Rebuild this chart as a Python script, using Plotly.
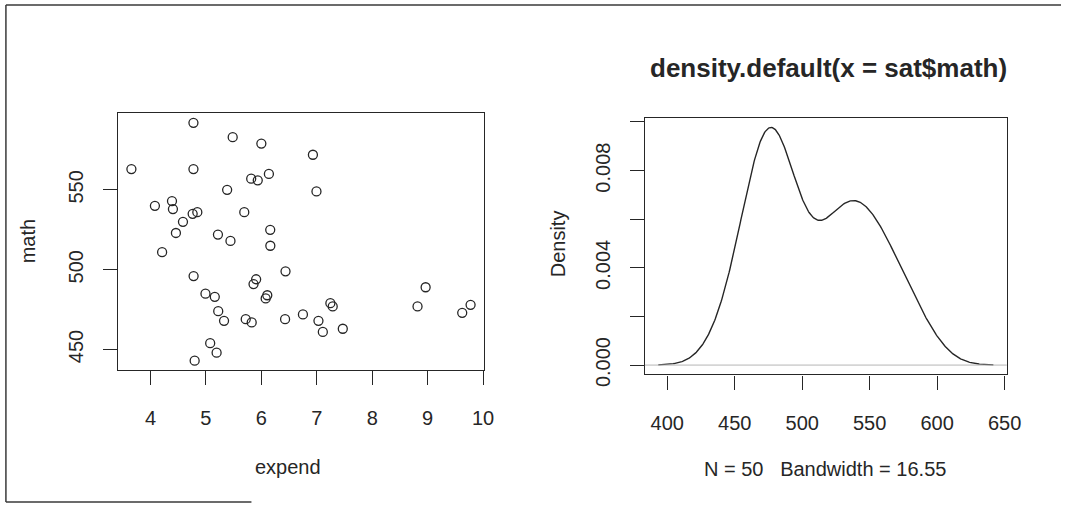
import numpy as np
import plotly.graph_objects as go

# ---- data (faraway::sat) ----
states = ["Alabama", "Alaska", "Arizona", "Arkansas", "California", "Colorado",
          "Connecticut", "Delaware", "Florida", "Georgia", "Hawaii", "Idaho",
          "Illinois", "Indiana", "Iowa", "Kansas", "Kentucky", "Louisiana",
          "Maine", "Maryland", "Massachusetts", "Michigan", "Minnesota",
          "Mississippi", "Missouri", "Montana", "Nebraska", "Nevada",
          "New Hampshire", "New Jersey", "New Mexico", "New York",
          "North Carolina", "North Dakota", "Ohio", "Oklahoma", "Oregon",
          "Pennsylvania", "Rhode Island", "South Carolina", "South Dakota",
          "Tennessee", "Texas", "Utah", "Vermont", "Virginia", "Washington",
          "West Virginia", "Wisconsin", "Wyoming"]
expend = [4.405, 8.963, 4.778, 4.459, 4.992, 5.443, 8.817, 7.030, 5.718, 5.193,
          6.078, 4.210, 6.136, 5.826, 5.483, 5.817, 5.217, 4.761, 6.428, 7.245,
          7.287, 6.994, 6.000, 4.080, 5.383, 5.692, 5.935, 5.160, 5.859, 9.774,
          4.586, 9.623, 5.077, 4.775, 6.162, 4.845, 6.436, 7.109, 7.469, 4.797,
          4.775, 4.388, 5.222, 3.656, 6.750, 5.327, 5.906, 6.107, 6.930, 6.160]
math = [538, 489, 496, 523, 485, 518, 477, 468, 469, 448,
        482, 511, 560, 467, 583, 557, 522, 535, 469, 479,
        477, 549, 579, 540, 550, 536, 556, 483, 491, 478,
        530, 473, 454, 592, 515, 536, 499, 461, 463, 443,
        563, 543, 474, 563, 472, 468, 494, 484, 572, 525]
BANDWIDTH = 16.55

x_ticks_left = [4, 5, 6, 7, 8, 9, 10]
y_ticks_left = [450, 500, 550]
x_ticks_right = [400, 450, 500, 550, 600, 650]
y_ticks_right = [0.0, 0.002, 0.004, 0.006, 0.008, 0.010]
y_text_right = ["0.000", "", "0.004", "", "0.008", ""]

# ---- density (gaussian kernel, R density.default style grid) ----
m = np.array(math, dtype=float)
grid = np.linspace(m.min() - 3 * BANDWIDTH, m.max() + 3 * BANDWIDTH, 512)
dens = np.exp(-0.5 * ((grid[:, None] - m[None, :]) / BANDWIDTH) ** 2).sum(axis=1)
dens /= (len(m) * BANDWIDTH * np.sqrt(2 * np.pi))

def padded(lo, hi, f=0.04):
    s = hi - lo
    return [lo - f * s, hi + f * s]

W, H = 1076, 517
def px(x):
    return x / W
def py(y):
    return 1 - y / H

INK = "#262626"
FONT = "Liberation Sans, Arial, sans-serif"

fig = go.Figure()
fig.add_trace(go.Scatter(
    x=expend, y=math, mode="markers", xaxis="x", yaxis="y",
    marker=dict(symbol="circle-open", size=9, color=INK, line=dict(width=1.3, color=INK)),
    showlegend=False))
fig.add_trace(go.Scatter(
    x=grid, y=dens, mode="lines", xaxis="x2", yaxis="y2",
    line=dict(color=INK, width=1.4), showlegend=False))

axis_common = dict(showgrid=False, zeroline=False, showline=True, mirror=True,
                   linecolor=INK, linewidth=1.3, ticks="outside", ticklen=14,
                   tickcolor=INK, tickwidth=1.2,
                   tickfont=dict(family=FONT, size=20, color=INK))

fig.update_layout(
    width=W, height=H, margin=dict(l=0, r=0, t=0, b=0),
    paper_bgcolor="white", plot_bgcolor="white",
    xaxis=dict(domain=[px(119.5), px(491)], range=padded(min(expend), max(expend)),
               tickvals=x_ticks_left, ticklabelstandoff=16, anchor="y", **axis_common),
    yaxis=dict(domain=[py(379), py(116)], range=padded(min(math), max(math)),
               tickvals=y_ticks_left, tickangle=-90, ticklabelstandoff=12,
               anchor="x", **axis_common),
    xaxis2=dict(domain=[px(654), px(1021)], range=padded(grid.min(), grid.max()),
                tickvals=x_ticks_right, ticklabelstandoff=16, anchor="y2", **axis_common),
    yaxis2=dict(domain=[py(383.3), py(120.7)], range=padded(dens.min(), dens.max()),
                tickvals=y_ticks_right, ticktext=y_text_right, tickangle=-90,
                ticklabelstandoff=12, anchor="x2", **axis_common),
)

fig.add_shape(type="line", xref="x2 domain", x0=0, x1=1, yref="y2", y0=0, y1=0,
              line=dict(color="#b5b5b5", width=1))

# outer frame
frame = dict(type="line", xref="paper", yref="paper", line=dict(color="#3a3a3a", width=1.5))
fig.add_shape(x0=px(6), x1=1, y0=py(5), y1=py(5), **frame)
fig.add_shape(x0=px(6), x1=px(6), y0=py(5), y1=py(514), **frame)
fig.add_shape(x0=px(6), x1=px(255), y0=py(514), y1=py(514), **frame)

ann_font = dict(family=FONT, size=20, color=INK)
fig.add_annotation(text="expend", x=px(292), y=py(478), xref="paper", yref="paper",
                   showarrow=False, font=ann_font, xanchor="center", yanchor="middle")
fig.add_annotation(text="math", x=px(28), y=py(247.5), xref="paper", yref="paper",
                   showarrow=False, font=ann_font, textangle=-90,
                   xanchor="center", yanchor="middle")
fig.add_annotation(text="Density", x=px(566), y=py(250), xref="paper", yref="paper",
                   showarrow=False, font=ann_font, textangle=-90,
                   xanchor="center", yanchor="middle")
fig.add_annotation(text="N = 50\u00a0\u00a0\u00a0Bandwidth = 16.55", x=px(837), y=py(480),
                   xref="paper", yref="paper", showarrow=False, font=ann_font,
                   xanchor="center", yanchor="middle")
fig.add_annotation(text="<b>density.default(x = sat$math)</b>", x=px(840), y=py(70),
                   xref="paper", yref="paper", showarrow=False,
                   font=dict(family=FONT, size=26, color=INK),
                   xanchor="center", yanchor="middle")

# remove the default page margin so the figure sits at the window's top-left corner
no_margin = ("document.documentElement.style.margin='0';"
             "document.body.style.margin='0';"
             "document.body.style.overflow='hidden';")

fig.write_html("out.html", config={"displayModeBar": False}, post_script=no_margin)
